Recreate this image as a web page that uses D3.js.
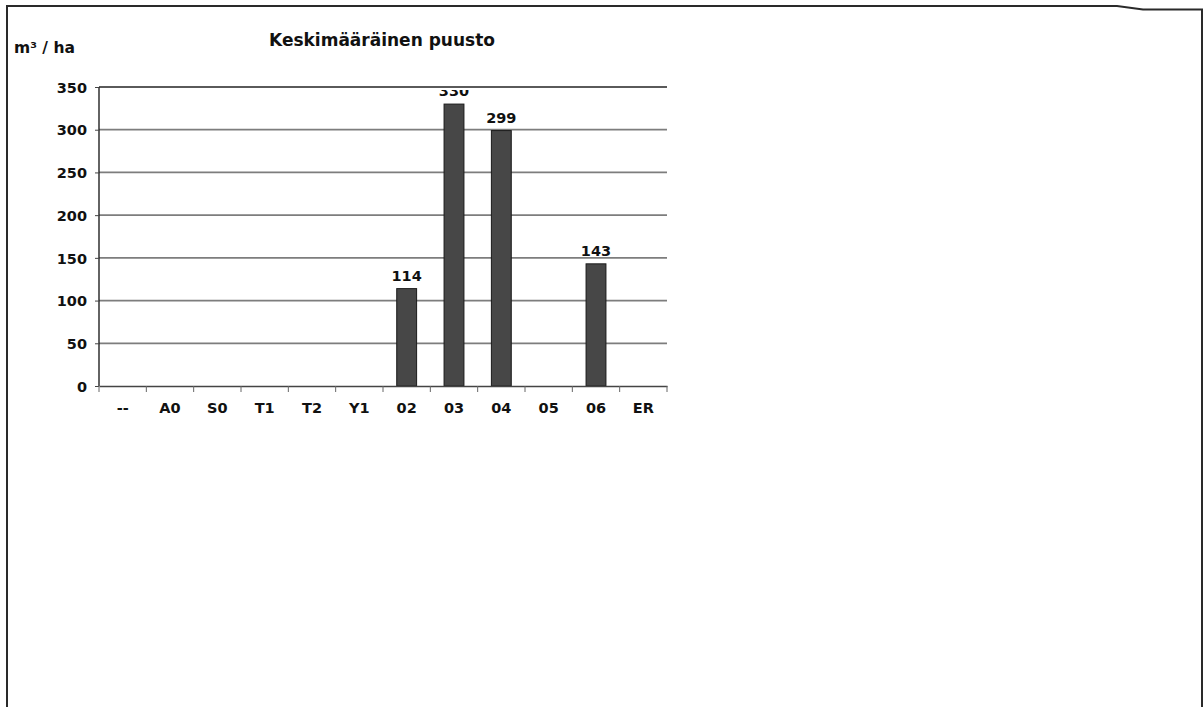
<!DOCTYPE html>
<html><head><meta charset="utf-8">
<script src="https://cdn.jsdelivr.net/npm/d3@7"></script>
<style>body{margin:0;background:#fff}svg{display:block}text{font-family:"DejaVu Sans",Verdana,sans-serif;font-weight:bold;fill:#111}</style>
</head><body>
<script>
const categories = ["--","A0","S0","T1","T2","Y1","02","03","04","05","06","ER"];
const values = [null,null,null,null,null,null,114,330,299,null,143,null];
const yTicks = [0,50,100,150,200,250,300,350];
const title = "Keskimääräinen puusto";
const unitLabel = "m³ / ha";

const W=1203,H=707;
const svg=d3.select("body").append("svg").attr("width",W).attr("height",H);
const plot={x0:99,x1:667,y0:386,y1:87};
const xs=d3.scaleBand().domain(categories).range([plot.x0,plot.x1]);
const x=d3.scaleBand().domain(categories).range([plot.x0,plot.x1]).paddingInner(0.58).paddingOuter(0.29);
const y=d3.scaleLinear().domain([0,350]).range([plot.y0,plot.y1]);

// frame
svg.append("path").attr("d",`M7,${H} L7,6 L1117,6 L1143,9.5 L1202,9.5 L1202,${H}`)
 .attr("fill","none").attr("stroke","#2a2a2a").attr("stroke-width",2);

// grid
svg.append("g").selectAll("line").data(yTicks.filter(d=>d>0)).join("line")
 .attr("x1",plot.x0).attr("x2",plot.x1).attr("y1",d=>y(d)).attr("y2",d=>y(d))
 .attr("stroke",d=>d===350?"#5a5a5a":"#7d7d7d").attr("stroke-width",1.8);

// bars
const data=categories.map((c,i)=>({c,v:values[i]})).filter(d=>d.v!=null);
svg.append("g").selectAll("rect").data(data).join("rect")
 .attr("x",d=>x(d.c)).attr("width",x.bandwidth()).attr("y",d=>y(d.v)).attr("height",d=>y(0)-y(d.v))
 .attr("fill","#474747").attr("stroke","#1a1a1a").attr("stroke-width",1);

// y axis
const ya=svg.append("g").attr("transform",`translate(${plot.x0},0)`)
 .call(d3.axisLeft(y).tickValues(yTicks).tickSize(4).tickPadding(8));
ya.select(".domain").attr("stroke","#222").attr("stroke-width",1.4).attr("d",`M0,${y(0)}V${y(350)}`);
ya.selectAll(".tick line").attr("stroke","#444");
ya.selectAll("text").style("font-size","14.5px").style("font-family","DejaVu Sans").style("font-weight","bold").attr("fill","#111").attr("dy","0.36em");

// x axis
const xa=svg.append("g").attr("transform",`translate(0,${y(0)})`)
 .call(d3.axisBottom(xs).tickSize(0).tickPadding(0));
xa.select(".domain").attr("stroke","#444").attr("stroke-width",1.6);
xa.selectAll("text").attr("y",27).attr("dy",0).style("font-size","14.5px").style("font-family","DejaVu Sans").style("font-weight","bold").attr("fill","#111");
xa.selectAll("text").filter(d=>d==="--").attr("fill","#999");
// tick marks between categories
svg.append("g").selectAll("line").data(d3.range(categories.length+1)).join("line")
 .attr("x1",i=>plot.x0+i*xs.step()).attr("x2",i=>plot.x0+i*xs.step())
 .attr("y1",y(0)).attr("y2",y(0)+6).attr("stroke","#666").attr("stroke-width",1);

// value labels (clipped just below the top gridline)
svg.append("clipPath").attr("id","clip").append("rect").attr("x",0).attr("y",plot.y1+3).attr("width",W).attr("height",H);
svg.append("g").attr("clip-path","url(#clip)").selectAll("text").data(data).join("text")
 .attr("x",d=>x(d.c)+x.bandwidth()/2).attr("y",d=>y(d.v)-8).attr("text-anchor","middle")
 .style("font-size","14.5px").text(d=>d.v);

svg.append("text").attr("x",382).attr("y",46).attr("text-anchor","middle").style("font-size","17px").text(title);
svg.append("text").attr("x",14).attr("y",53).style("font-size","15.5px").text(unitLabel);
</script>
</body></html>
